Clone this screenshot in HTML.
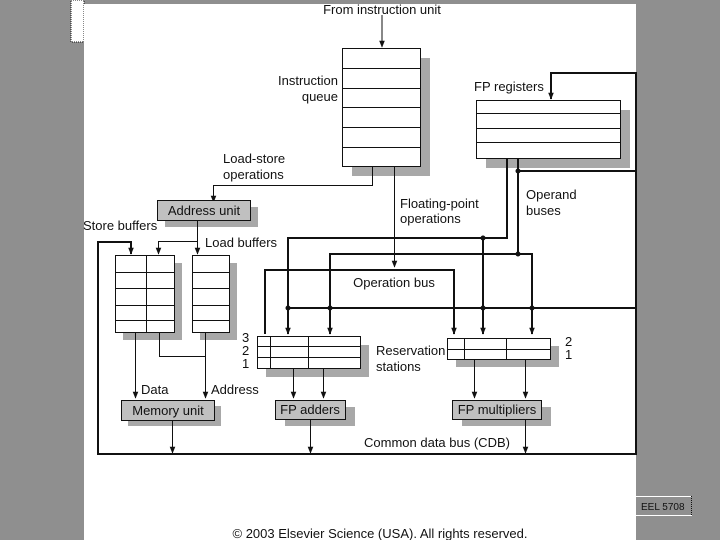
<!DOCTYPE html>
<html><head><meta charset="utf-8"><style>
html,body{margin:0;padding:0;background:#8f8f8f;}
svg{display:block;}
text{font-family:"Liberation Sans",sans-serif;font-size:13px;fill:#111;}
</style></head><body>
<svg width="720" height="540" viewBox="0 0 720 540" xmlns="http://www.w3.org/2000/svg">
<defs>
<marker id="a" viewBox="0 0 10 10" refX="9" refY="5" markerWidth="7" markerHeight="7" orient="auto" markerUnits="userSpaceOnUse"><path d="M0,1 L10,5 L0,9 z" fill="#111"/></marker>
</defs>
<rect x="0" y="0" width="720" height="540" fill="#8f8f8f"/>
<rect x="71" y="0" width="13" height="42" fill="#fff" stroke="#111" stroke-dasharray="1,1"/>
<rect x="84" y="4" width="552" height="536" fill="#fff"/>
<rect x="636" y="496" width="56" height="20" fill="#8f8f8f"/>
<line x1="636" y1="496.5" x2="692" y2="496.5" stroke="#fff"/>
<line x1="636" y1="515.5" x2="692" y2="515.5" stroke="#fff"/>
<line x1="691.5" y1="496" x2="691.5" y2="516" stroke="#111" stroke-dasharray="1,1"/>
<text x="641" y="510" style="font-size:10px">EEL 5708</text>

<g stroke="#111" fill="none">
<line x1="382" y1="15" x2="382" y2="47" marker-end="url(#a)"/>
<rect x="352" y="58" width="78" height="118" fill="#a8a8a8" stroke="none"/>
<rect x="342.5" y="48.5" width="78" height="118" fill="#fff"/>
<path d="M342 68.5H421M342 88.5H421M342 107.5H421M342 127.5H421M342 147.5H421"/>
<path d="M372.5 166V185.5H213.5V202" marker-end="url(#a)"/>
<rect x="165" y="207" width="93" height="20" fill="#a8a8a8" stroke="none"/>
<rect x="157.5" y="200.5" width="93" height="20" fill="#c0c0c0"/>
<path d="M197.5 221V254" marker-end="url(#a)"/>
<path d="M197.5 241.5H158.5V254" marker-end="url(#a)"/>
<rect x="123" y="263" width="59" height="77" fill="#a8a8a8" stroke="none"/>
<rect x="115.5" y="255.5" width="59" height="77" fill="#fff"/>
<path d="M146.5 255V332M115 272.5H175M115 288.5H175M115 305.5H175M115 320.5H175"/>
<rect x="200" y="263" width="37" height="77" fill="#a8a8a8" stroke="none"/>
<rect x="192.5" y="255.5" width="37" height="77" fill="#fff"/>
<path d="M192 272.5H230M192 288.5H230M192 305.5H230M192 320.5H230"/>
<path d="M135.5 333V398" marker-end="url(#a)"/>
<path d="M159.5 333V356.5H205.5"/>
<path d="M205.5 333V398" marker-end="url(#a)"/>
<rect x="128" y="406" width="93" height="20" fill="#a8a8a8" stroke="none"/>
<rect x="121.5" y="400.5" width="93" height="20" fill="#c0c0c0"/>
<path d="M172.5 421V453" marker-end="url(#a)"/>
<rect x="486" y="110" width="144" height="58" fill="#a8a8a8" stroke="none"/>
<rect x="476.5" y="100.5" width="144" height="58" fill="#fff"/>
<path d="M476 113.5H621M476 128.5H621M476 142.5H621"/>
<path d="M394.5 167V267" marker-end="url(#a)"/>
</g>

<g stroke="#111" fill="none" stroke-width="2">
<path d="M98 455V242H131V254" marker-end="url(#a)"/>
<path d="M97 454H636V73H551V99" marker-end="url(#a)"/>
<path d="M518 171H636"/>
<path d="M507 158V238H288V334" marker-end="url(#a)"/>
<path d="M483 238V334" marker-end="url(#a)"/>
<path d="M518 158V254H330V334" marker-end="url(#a)"/>
<path d="M518 254H532V334" marker-end="url(#a)"/>
<path d="M265 334V270H454V334" marker-end="url(#a)"/>
<path d="M288 308H636"/>
</g>
<g fill="#111">
<circle cx="288" cy="308" r="2.5"/><circle cx="330" cy="308" r="2.5"/>
<circle cx="483" cy="308" r="2.5"/><circle cx="532" cy="308" r="2.5"/>
<circle cx="483" cy="238" r="2.5"/><circle cx="518" cy="254" r="2.5"/>
<circle cx="518" cy="171" r="2.5"/>
</g>

<g stroke="#111" fill="none">
<rect x="266" y="345" width="103" height="32" fill="#a8a8a8" stroke="none"/>
<rect x="257.5" y="336.5" width="103" height="32" fill="#fff"/>
<path d="M257 346.5H361M257 357.5H361M270.5 336V369M308.5 336V369"/>
<rect x="456" y="346" width="103" height="21" fill="#a8a8a8" stroke="none"/>
<rect x="447.5" y="338.5" width="103" height="21" fill="#fff"/>
<path d="M447 349.5H551M464.5 338V360M506.5 338V360"/>
<path d="M293.5 369V398" marker-end="url(#a)"/>
<path d="M323.5 369V398" marker-end="url(#a)"/>
<path d="M474.5 360V398" marker-end="url(#a)"/>
<path d="M525.5 360V398" marker-end="url(#a)"/>
<rect x="285" y="407" width="70" height="19" fill="#a8a8a8" stroke="none"/>
<rect x="275.5" y="400.5" width="70" height="19" fill="#c0c0c0"/>
<rect x="462" y="407" width="89" height="19" fill="#a8a8a8" stroke="none"/>
<rect x="452.5" y="400.5" width="89" height="19" fill="#c0c0c0"/>
<path d="M310.5 420V453" marker-end="url(#a)"/>
<path d="M525.5 420V453" marker-end="url(#a)"/>
</g>

<text x="382" y="14" text-anchor="middle">From instruction unit</text>
<text x="338" y="85" text-anchor="end">Instruction</text>
<text x="338" y="101" text-anchor="end">queue</text>
<text x="223" y="163">Load-store</text>
<text x="223" y="179">operations</text>
<text x="204" y="215" text-anchor="middle">Address unit</text>
<text x="83" y="230">Store buffers</text>
<text x="205" y="247">Load buffers</text>
<text x="400" y="208">Floating-point</text>
<text x="400" y="223">operations</text>
<text x="474" y="91">FP registers</text>
<text x="526" y="199">Operand</text>
<text x="526" y="215">buses</text>
<text x="394" y="287" text-anchor="middle">Operation bus</text>
<text x="242" y="342">3</text>
<text x="242" y="355">2</text>
<text x="242" y="368">1</text>
<text x="376" y="355">Reservation</text>
<text x="376" y="371">stations</text>
<text x="565" y="346">2</text>
<text x="565" y="359">1</text>
<text x="141" y="394">Data</text>
<text x="211" y="394">Address</text>
<text x="168" y="415" text-anchor="middle">Memory unit</text>
<text x="310" y="414" text-anchor="middle">FP adders</text>
<text x="497" y="414" text-anchor="middle">FP multipliers</text>
<text x="437" y="447" text-anchor="middle">Common data bus (CDB)</text>
<text x="380" y="538" text-anchor="middle" style="font-size:13px">© 2003 Elsevier Science (USA). All rights reserved.</text>
</svg>
</body></html>
